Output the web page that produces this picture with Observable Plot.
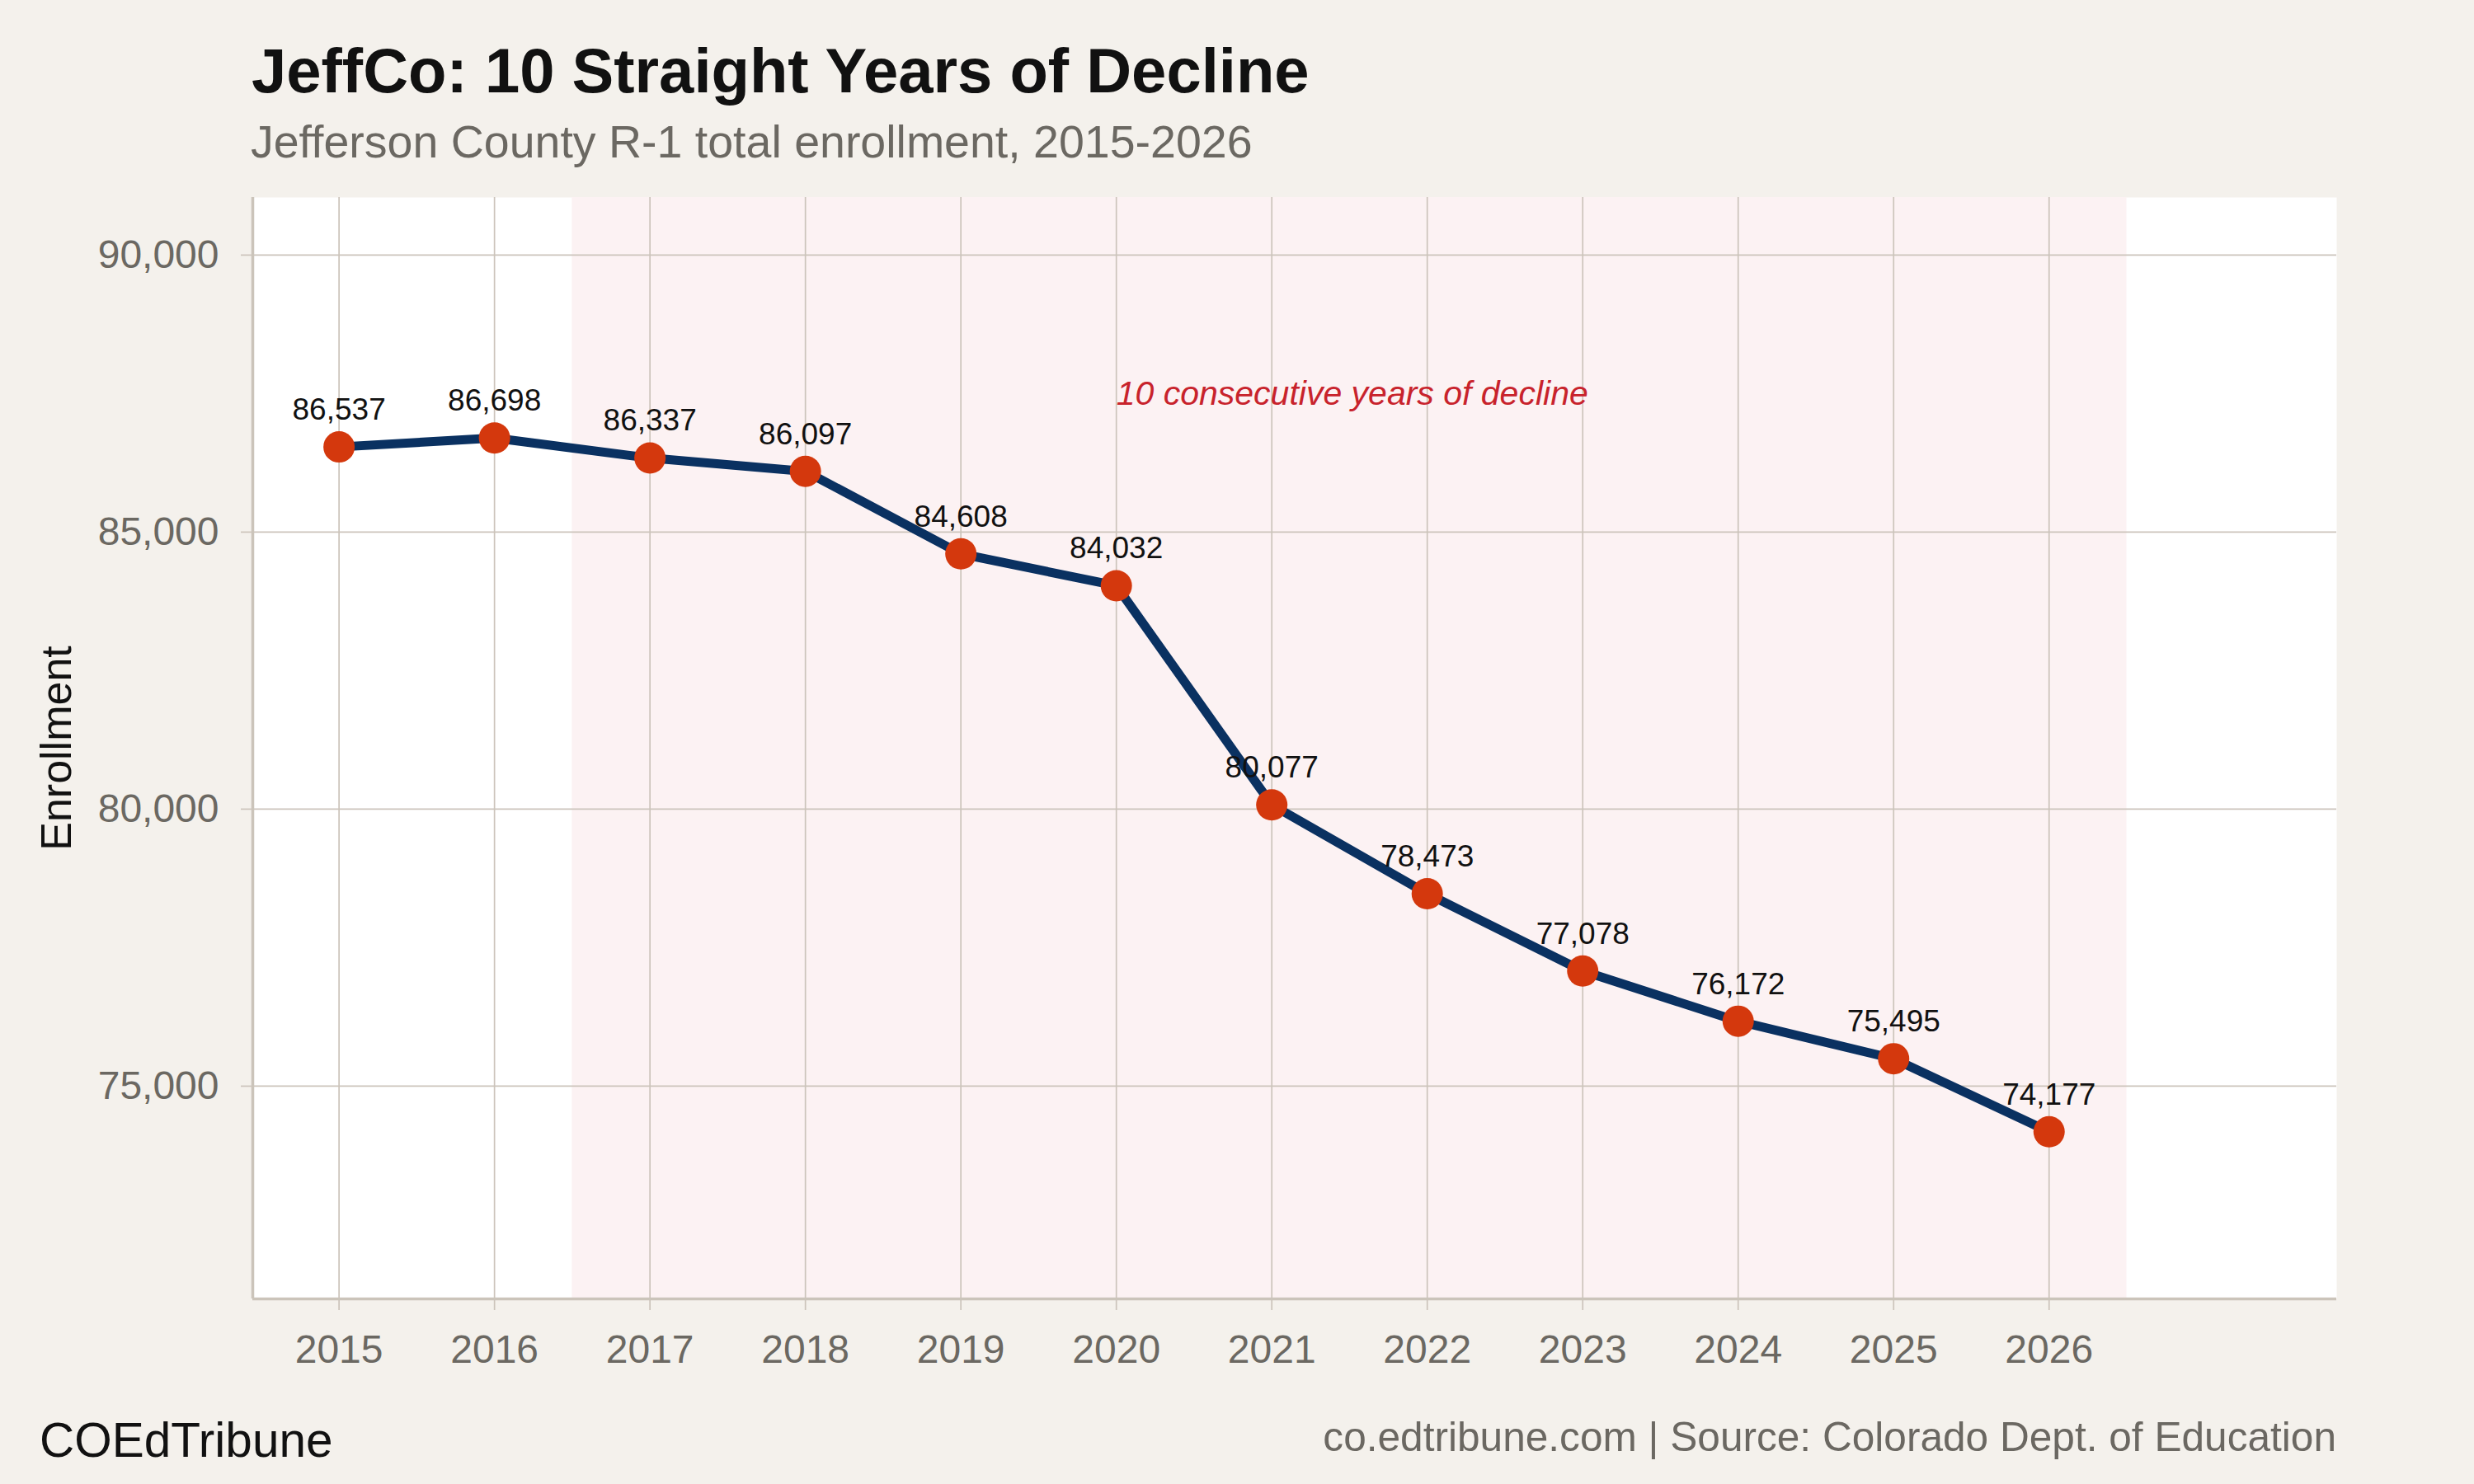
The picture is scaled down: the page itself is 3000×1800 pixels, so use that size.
<!DOCTYPE html>
<html>
<head>
<meta charset="utf-8">
<script src="https://cdn.jsdelivr.net/npm/d3@7"></script>
<script src="https://cdn.jsdelivr.net/npm/@observablehq/plot@0.6"></script>
<style>
  html, body { margin: 0; padding: 0; background: #f4f1ec; }
  #wrap { position: relative; width: 3000px; height: 1800px; background: #f4f1ec; font-family: "Liberation Sans", Arial, Helvetica, sans-serif; }
  .t { position: absolute; white-space: nowrap; line-height: 1; }
  #title { left: 305px; top: 48px; font-size: 76px; font-weight: bold; color: #111111; }
  #subtitle { left: 304px; top: 145px; font-size: 55.5px; color: #6b6862; }
  #brand { left: 48px; top: 1718px; font-size: 58.5px; color: #111111; }
  #source { right: 167px; top: 1719px; font-size: 49.6px; color: #6b6862; }
  #chart { position: absolute; left: 0; top: 200px; }
</style>
</head>
<body>
<div id="wrap">
  <div class="t" id="title">JeffCo: 10 Straight Years of Decline</div>
  <div class="t" id="subtitle">Jefferson County R-1 total enrollment, 2015-2026</div>
  <div id="chart"></div>
  <div class="t" id="brand">COEdTribune</div>
  <div class="t" id="source">co.edtribune.com | Source: Colorado Dept. of Education</div>
</div>
<script>
// ---- data ----
const years = [2015, 2016, 2017, 2018, 2019, 2020, 2021, 2022, 2023, 2024, 2025, 2026];
const enrollment = [86537, 86698, 86337, 86097, 84608, 84032, 80077, 78473, 77078, 76172, 75495, 74177];
const yTicks = [75000, 80000, 85000, 90000];
const xDomain = [2014.445, 2027.85];
const yDomain = [71160, 91040];
const declineStartYear = 2017;
const declineEndYear = 2026;
const annotationYear = 2020;
const annotationValue = 87500;
const annotationText = "10 consecutive years of decline";
const yLabel = "Enrollment";

const rows = years.map((y, i) => ({year: y, value: enrollment[i]}));
const shade = [{x1: declineStartYear - 0.5, x2: declineEndYear + 0.5}];

const gridColor = "#ccc4bb";
const axisColor = "#cbc4ba";
const tickText = "#6b6862";

const chart = Plot.plot({
  width: 3000,
  height: 1500,
  marginTop: 39,
  marginBottom: 125,
  marginLeft: 306,
  marginRight: 167,
  style: {fontFamily: "Liberation Sans, Arial, Helvetica, sans-serif", background: "transparent", overflow: "visible"},
  x: {type: "linear", domain: xDomain},
  y: {type: "linear", domain: yDomain},
  marks: [
    Plot.frame({fill: "#ffffff"}),
    Plot.rect(shade, {x1: "x1", x2: "x2", fill: "#fcf2f3"}),
    Plot.gridY(yTicks, {stroke: gridColor, strokeOpacity: 1, strokeWidth: 1.7}),
    Plot.gridX(years, {stroke: gridColor, strokeOpacity: 1, strokeWidth: 1.7}),
    Plot.axisY(yTicks, {tickSize: 14, tickPadding: 27, fontSize: 48, fill: tickText, stroke: gridColor, strokeWidth: 1.7, tickFormat: d3.format(","), label: null}),
    Plot.axisX(years, {tickSize: 14, tickPadding: 29, fontSize: 48, fill: tickText, stroke: gridColor, strokeWidth: 1.7, tickFormat: d => String(d), label: null}),
    Plot.ruleX([xDomain[0]], {stroke: axisColor, strokeWidth: 3.5}),
    Plot.ruleY([yDomain[0]], {stroke: axisColor, strokeWidth: 3.5}),
    Plot.line(rows, {x: "year", y: "value", stroke: "#0a3161", strokeWidth: 11, strokeLinejoin: "round", strokeLinecap: "round"}),
    Plot.dot(rows, {x: "year", y: "value", r: 19, fill: "#d4380d", stroke: "none"}),
    Plot.text(rows, {x: "year", y: "value", text: d => d3.format(",")(d.value), dy: -45, fontSize: 37, fill: "#111111"}),
    Plot.text([annotationText], {x: () => annotationYear, y: () => annotationValue, text: d => d, textAnchor: "start", fontSize: 41, fontStyle: "italic", fill: "#c8232c"}),
    Plot.text([yLabel], {frameAnchor: "left", text: d => d, textAnchor: "middle", rotate: -90, dx: -237, fontSize: 52, fill: "#111111"})
  ]
});
document.getElementById("chart").appendChild(chart);
</script>
</body>
</html>
